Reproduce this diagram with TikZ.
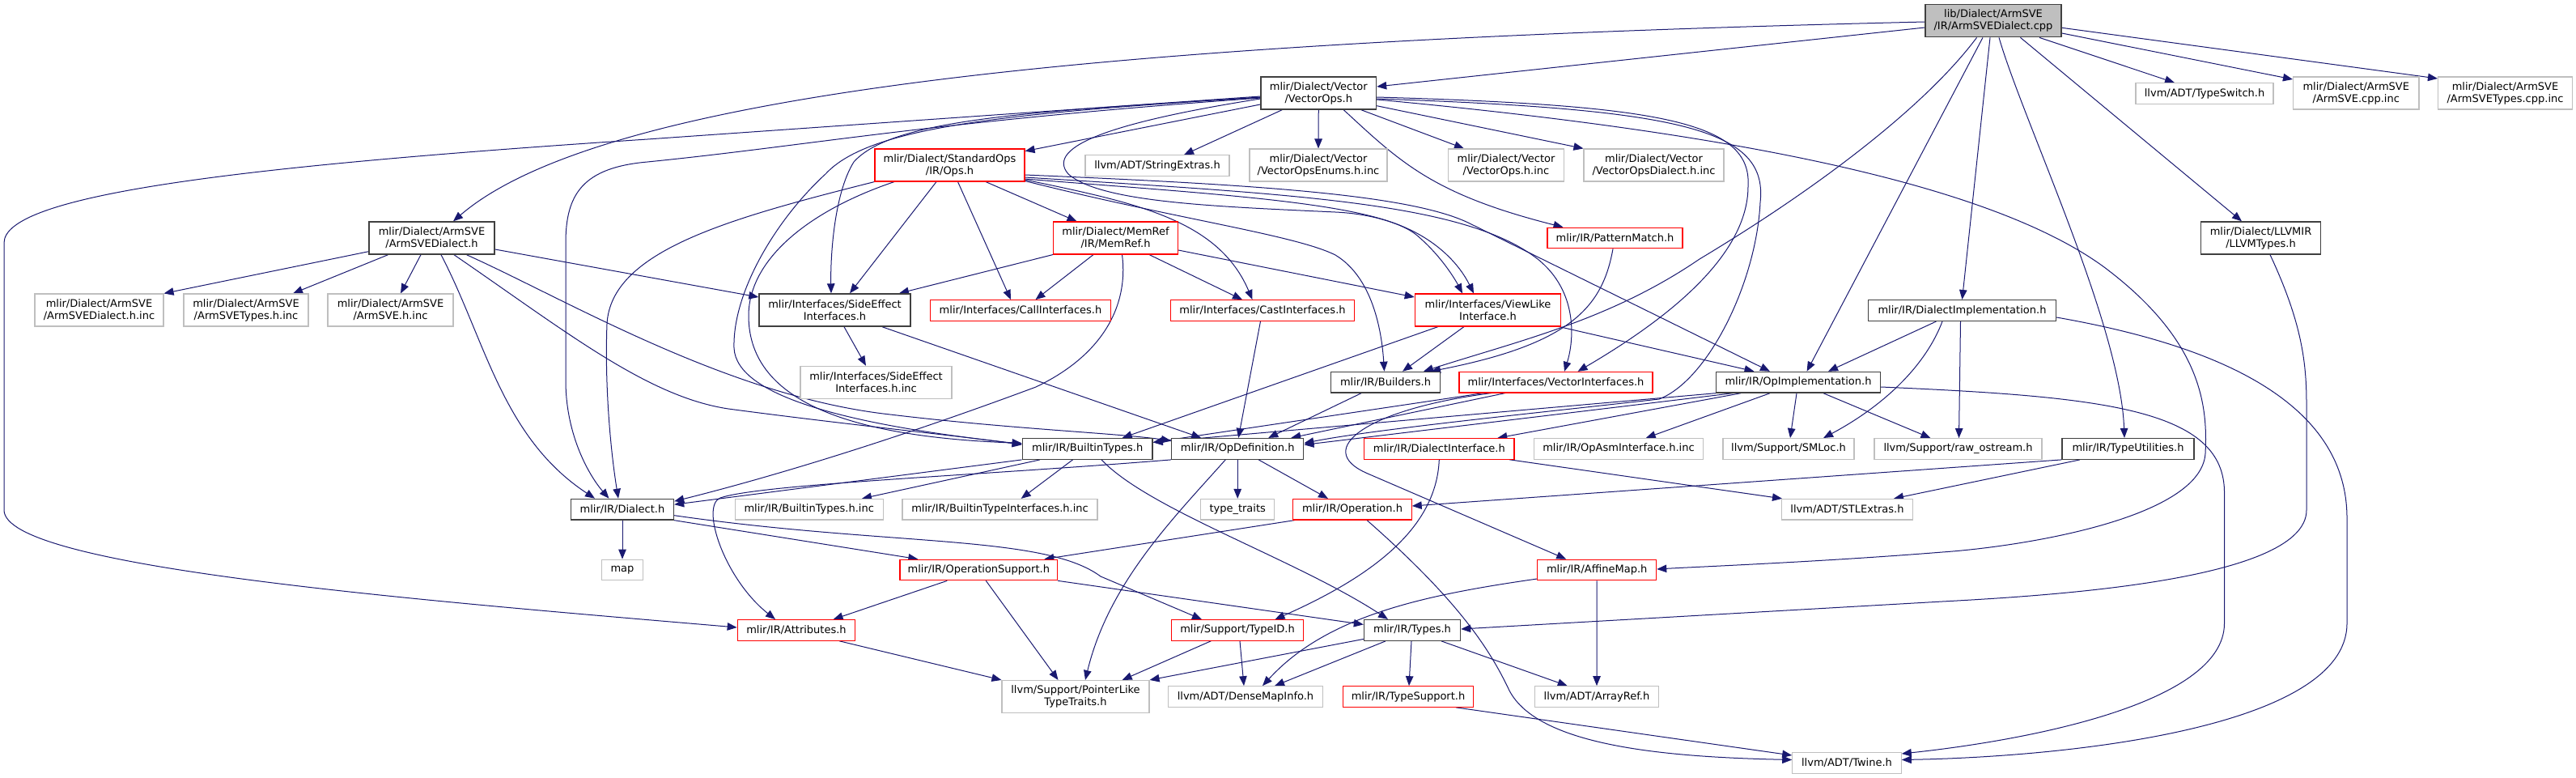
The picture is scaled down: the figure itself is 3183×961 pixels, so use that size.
\documentclass[tikz,border=0pt]{standalone}
\usepackage{fontspec}
\setmainfont{DejaVu Sans}
\usetikzlibrary{arrows.meta}
\pgfdeclarelayer{bg}
\pgfsetlayers{bg,main}
\definecolor{edgec}{HTML}{191970}
\definecolor{greyA}{HTML}{404040}
\definecolor{greyB}{HTML}{BFBFBF}
\definecolor{redc}{HTML}{FF0000}
\begin{document}
\begin{tikzpicture}[x=1pt,y=-1pt,
  nbox/.style={rectangle, line width=1.1pt, fill=white, inner sep=0pt, align=center, font=\fontsize{13}{15}\selectfont, minimum height=25.6pt},
  twol/.style={minimum height=40pt},
  nblk/.style={nbox, draw=greyA, line width=1.4pt},
  nred/.style={nbox, draw=redc},
  ngry/.style={nbox, draw=greyB},
  nroot/.style={nbox, draw=greyA, fill=greyB, line width=1.4pt},
  conn/.style={draw=edgec, line width=1.0pt, -{Triangle[length=12pt,width=9.5pt]}}
]
\useasboundingbox (0,0) rectangle (3183,961);

% ---------- nodes ----------
\node[nroot, twol, minimum width=168pt] (cpp) at (2463,25.7) {lib/Dialect/ArmSVE\\/IR/ArmSVEDialect.cpp};
\node[nblk, twol, minimum width=142.5pt] (vops) at (1629.25,115) {mlir/Dialect/Vector\\/VectorOps.h};
\node[ngry, minimum width=170pt] (typeswitch) at (2724,115.5) {llvm/ADT/TypeSwitch.h};
\node[ngry, twol, minimum width=155.5pt] (asvecppinc) at (2911.25,115) {mlir/Dialect/ArmSVE\\/ArmSVE.cpp.inc};
\node[ngry, twol, minimum width=166pt] (asvetcppinc) at (3095.5,115) {mlir/Dialect/ArmSVE\\/ArmSVETypes.cpp.inc};
\node[nred, twol, minimum width=185pt] (ops) at (1173.5,204) {mlir/Dialect/StandardOps\\/IR/Ops.h};
\node[ngry, minimum width=178pt] (strext) at (1430,204.5) {llvm/ADT/StringExtras.h};
\node[ngry, twol, minimum width=170pt] (venum) at (1629,204) {mlir/Dialect/Vector\\/VectorOpsEnums.h.inc};
\node[ngry, twol, minimum width=142.5pt] (vopsinc) at (1861,204) {mlir/Dialect/Vector\\/VectorOps.h.inc};
\node[ngry, twol, minimum width=173pt] (vdialinc) at (2043.5,204) {mlir/Dialect/Vector\\/VectorOpsDialect.h.inc};
\node[nblk, twol, minimum width=155pt] (asd) at (533.5,294) {mlir/Dialect/ArmSVE\\/ArmSVEDialect.h};
\node[nred, twol, minimum width=154pt] (memref) at (1378.5,294) {mlir/Dialect/MemRef\\/IR/MemRef.h};
\node[nred, minimum width=167pt] (pattern) at (1995.5,294) {mlir/IR/PatternMatch.h};
\node[nblk, twol, minimum width=148pt] (llvmtypes) at (2793.5,294) {mlir/Dialect/LLVMIR\\/LLVMTypes.h};
\node[ngry, twol, minimum width=159pt] (asdinc) at (122.5,383) {mlir/Dialect/ArmSVE\\/ArmSVEDialect.h.inc};
\node[ngry, twol, minimum width=154pt] (astinc) at (304,383) {mlir/Dialect/ArmSVE\\/ArmSVETypes.h.inc};
\node[ngry, twol, minimum width=155pt] (asveinc) at (482.5,383) {mlir/Dialect/ArmSVE\\/ArmSVE.h.inc};
\node[nblk, twol, minimum width=187pt] (sei) at (1031.5,383) {mlir/Interfaces/SideEffect\\Interfaces.h};
\node[nred, minimum width=223pt] (call) at (1261,383.5) {mlir/Interfaces/CallInterfaces.h};
\node[nred, minimum width=227pt] (cast) at (1560,383.5) {mlir/Interfaces/CastInterfaces.h};
\node[nred, twol, minimum width=180.5pt] (viewlike) at (1838.5,383) {mlir/Interfaces/ViewLike\\Interface.h};
\node[nblk, minimum width=232pt] (dialimpl) at (2424.5,383.5) {mlir/IR/DialectImplementation.h};
\node[ngry, twol, minimum width=187pt] (seiinc) at (1082.5,472.3) {mlir/Interfaces/SideEffect\\Interfaces.h.inc};
\node[nblk, minimum width=135pt] (builders) at (1712,472.2) {mlir/IR/Builders.h};
\node[nred, minimum width=239pt] (vecint) at (1922.5,472.2) {mlir/Interfaces/VectorInterfaces.h};
\node[nblk, minimum width=203pt] (opimpl) at (2222,472.2) {mlir/IR/OpImplementation.h};
\node[nblk, minimum width=160.7pt] (builtin) at (1343.7,554.4) {mlir/IR/BuiltinTypes.h};
\node[nblk, minimum width=163pt] (opdef) at (1529.2,554.4) {mlir/IR/OpDefinition.h};
\node[nred, minimum width=185.3pt] (dialint) at (1778.3,554.4) {mlir/IR/DialectInterface.h};
\node[ngry, minimum width=209.3pt] (opasminc) at (2000,554.4) {mlir/IR/OpAsmInterface.h.inc};
\node[ngry, minimum width=162pt] (smloc) at (2210,554.4) {llvm/Support/SMLoc.h};
\node[ngry, minimum width=207pt] (rawos) at (2419.5,554.4) {llvm/Support/raw\_ostream.h};
\node[nblk, minimum width=163pt] (typeutil) at (2629.5,554.4) {mlir/IR/TypeUtilities.h};
\node[nblk, minimum width=127pt] (dialect) at (769,629.2) {mlir/IR/Dialect.h};
\node[ngry, minimum width=182.7pt] (bthinc) at (999.7,629.2) {mlir/IR/BuiltinTypes.h.inc};
\node[ngry, minimum width=241pt] (btiinc) at (1235.5,629.2) {mlir/IR/BuiltinTypeInterfaces.h.inc};
\node[ngry, minimum width=91.3pt] (typetraits) at (1529.2,629.2) {type\_traits};
\node[nred, minimum width=146.3pt] (operation) at (1671,629.2) {mlir/IR/Operation.h};
\node[ngry, minimum width=162.3pt] (stlextras) at (2282.5,629.2) {llvm/ADT/STLExtras.h};
\node[ngry, minimum width=50.7pt] (map) at (769,704) {map};
\node[nred, minimum width=194.6pt] (opsupport) at (1209.3,704) {mlir/IR/OperationSupport.h};
\node[nred, minimum width=147pt] (affinemap) at (1973.2,704) {mlir/IR/AffineMap.h};
\node[nred, minimum width=145.6pt] (attributes) at (984,778.4) {mlir/IR/Attributes.h};
\node[nred, minimum width=163pt] (typeid) at (1529,778.4) {mlir/Support/TypeID.h};
\node[nblk, minimum width=119pt] (types) at (1745,778.4) {mlir/IR/Types.h};
\node[ngry, twol, minimum width=182pt] (ptrlike) at (1329,860.5) {llvm/Support/PointerLike\\TypeTraits.h};
\node[ngry, minimum width=190.7pt] (densemap) at (1539,860.5) {llvm/ADT/DenseMapInfo.h};
\node[nred, minimum width=161.4pt] (typesupport) at (1740,860.5) {mlir/IR/TypeSupport.h};
\node[ngry, minimum width=153.6pt] (arrayref) at (1973,860.5) {llvm/ADT/ArrayRef.h};
\node[ngry, minimum width=134.5pt] (twine) at (2282,942.5) {llvm/ADT/Twine.h};

% ---------- connectors ----------
\begin{pgfonlayer}{bg}
% root
\draw[conn] ([yshift=-8.3pt]cpp.west) -- ([yshift=8pt]vops.east);
\draw[conn] ([yshift=-1.3pt]cpp.west) .. controls (1400,50) and (750,110) .. ([xshift=26.5pt]asd.north);
\draw[conn] ([xshift=57pt]cpp.south) -- ([xshift=-37pt]typeswitch.north);
\draw[conn] ([yshift=-15.3pt]cpp.east) -- ([yshift=17pt]asvecppinc.west);
\draw[conn] ([yshift=-8.6pt]cpp.east) -- ([yshift=18pt]asvetcppinc.west);
\draw[conn] ([xshift=33.5pt]cpp.south) -- ([xshift=-23.5pt]llvmtypes.north);
\draw[conn] ([xshift=7pt]cpp.south) .. controls (2500,150) and (2620,400) .. ([xshift=-4.5pt]typeutil.north);
\draw[conn] ([xshift=-4pt]cpp.south) -- (dialimpl.north);
\draw[conn] ([xshift=-13pt]cpp.south) -- ([xshift=10.6pt]opimpl.north);
\draw[conn] ([xshift=-20.5pt]cpp.south) .. controls (2380,130) and (2250,230) .. (2100,320) .. controls (1990,395) and (1880,420) .. ([xshift=47pt]builders.north);
% VectorOps.h
\draw[conn] (vops.south) -- (venum.north);
\draw[conn] ([xshift=52.6pt]vops.south) -- ([xshift=-52pt]vopsinc.north);
\draw[conn] ([yshift=-15.7pt]vops.east) -- (vdialinc.north west);
\draw[conn] ([xshift=-45pt]vops.south) -- ([xshift=33pt]strext.north);
\draw[conn] ([yshift=-14pt]vops.west) -- ([yshift=17.3pt]ops.east);
\draw[conn] ([xshift=31pt]vops.south) .. controls (1730,200) and (1770,240) .. ([xshift=-64pt]pattern.north);
\draw[conn] ([yshift=-4pt]vops.west) -- (800,172) .. controls (300,205) and (5,240) .. (5,300) -- (5,630) .. controls (5,700) and (500,740) .. ([yshift=3.4pt]attributes.west);
\draw[conn] ([yshift=-6pt]vops.west) .. controls (1150,150) and (1000,180) .. (800,200) .. controls (720,207) and (699,240) .. (699,300) -- (699,470) .. controls (699,540) and (730,590) .. ([xshift=-16.5pt]dialect.north);
\draw[conn] ([yshift=-5pt]vops.west) .. controls (1250,140) and (1075,155) .. (1020,215) .. controls (960,270) and (905,360) .. (907,430) .. controls (910,490) and (1050,525) .. ([yshift=6pt]builtin.west);
\draw[conn] ([yshift=-5.5pt]vops.west) .. controls (1250,138) and (1100,150) .. (1055,200) .. controls (1030,240) and (1026,320) .. ([xshift=-4.5pt]sei.north);
\draw[conn] ([yshift=-7pt]vops.west) .. controls (1380,150) and (1290,180) .. (1320,215) .. controls (1360,250) and (1500,255) .. (1650,262) .. controls (1740,266) and (1795,310) .. ([xshift=-17.5pt]viewlike.north);
\draw[conn] ([yshift=-5pt]vops.east) .. controls (2050,130) and (2165,150) .. (2160,230) .. controls (2160,320) and (2050,400) .. ([xshift=27pt]vecint.north);
\draw[conn] ([yshift=-7pt]vops.east) .. controls (2080,135) and (2185,160) .. (2175,250) .. controls (2170,350) and (2110,470) .. (2050,493) .. controls (1900,510) and (1700,530) .. ([yshift=7pt]opdef.east);
\draw[conn] ([yshift=-8pt]vops.east) .. controls (2100,160) and (2450,220) .. (2600,330) .. controls (2720,420) and (2728,500) .. (2725,560) .. controls (2720,640) and (2500,675) .. (2400,682) .. controls (2250,694) and (2100,700) .. ([yshift=1pt]affinemap.east);
% Ops.h
\draw[conn] (ops.south west) .. controls (900,270) and (755,310) .. (750,400) .. controls (747,480) and (755,560) .. ([xshift=-5pt]dialect.north);
\draw[conn] ([xshift=-68.5pt]ops.south) .. controls (1000,260) and (925,320) .. (925,390) .. controls (925,500) and (1060,540) .. ([yshift=7pt]builtin.west);
\draw[conn] ([xshift=-16.5pt]ops.south) -- ([xshift=18.5pt]sei.north);
\draw[conn] ([xshift=10pt]ops.south) -- ([xshift=-12pt]call.north);
\draw[conn] ([xshift=44.5pt]ops.south) -- ([xshift=-48pt]memref.north);
\draw[conn] ([yshift=-18pt]ops.east) .. controls (1400,250) and (1505,270) .. ([xshift=-12.5pt]cast.north);
\draw[conn] ([yshift=-17pt]ops.east) .. controls (1500,240) and (1700,250) .. (1750,290) .. controls (1780,315) and (1798,345) .. ([xshift=-31.5pt]viewlike.north);
\draw[conn] ([yshift=-15pt]ops.east) .. controls (1600,240) and (1810,250) .. (1900,320) .. controls (1950,360) and (1945,420) .. ([xshift=10.5pt]vecint.north);
\draw[conn] ([yshift=-12pt]ops.east) .. controls (1550,228) and (1740,240) .. (1814,275) -- ([xshift=-35pt]opimpl.north);
\draw[conn] ([yshift=-19.5pt]ops.east) .. controls (1450,270) and (1600,290) .. (1650,315) .. controls (1700,345) and (1708,420) .. ([xshift=-1.5pt]builders.north);
% MemRef.h
\draw[conn] (memref.south west) -- ([xshift=79.5pt]sei.north);
\draw[conn] ([xshift=-27.5pt]memref.south) -- ([xshift=18.5pt]call.north);
\draw[conn] ([xshift=8pt]memref.south) .. controls (1395,380) and (1360,440) .. (1280,478) .. controls (1100,545) and (950,590) .. ([yshift=10pt]dialect.east);
\draw[conn] ([xshift=41.5pt]memref.south) -- ([xshift=-25pt]cast.north);
\draw[conn] ([yshift=-15pt]memref.east) -- ([yshift=16pt]viewlike.west);
% ArmSVEDialect.h
\draw[conn] ([yshift=-16.7pt]asd.west) -- (asdinc.north east);
\draw[conn] ([xshift=-54pt]asd.south) -- ([xshift=58pt]astinc.north);
\draw[conn] ([xshift=-13.5pt]asd.south) -- ([xshift=12.5pt]asveinc.north);
\draw[conn] ([xshift=11.5pt]asd.south) .. controls (600,420) and (620,540) .. ([xshift=-34pt]dialect.north);
\draw[conn] ([xshift=27.5pt]asd.south) .. controls (700,410) and (800,490) .. (900,505) .. controls (1050,525) and (1200,540) .. ([yshift=5pt]builtin.west);
\draw[conn] ([xshift=43pt]asd.south) .. controls (700,370) and (900,490) .. (1100,512) .. controls (1250,530) and (1380,535) .. ([yshift=10pt]opdef.west);
\draw[conn] ([yshift=-14pt]asd.east) -- ([yshift=16pt]sei.west);
% interfaces
\draw[conn] ([xshift=11.5pt]sei.south) -- ([xshift=-12.5pt]seiinc.north);
\draw[conn] ([xshift=58.5pt]sei.south) -- ([xshift=-45pt]opdef.north);
\draw[conn] ([xshift=-2.5pt]cast.south) -- ([xshift=1pt]opdef.north);
\draw[conn] ([xshift=-61.5pt]viewlike.south) -- ([xshift=43pt]builtin.north);
\draw[conn] ([xshift=-29.5pt]viewlike.south) -- ([xshift=21pt]builders.north);
\draw[conn] ([xshift=88pt]viewlike.south) -- ([xshift=-54.5pt]opimpl.north);
\draw[conn] ([xshift=-2.5pt]pattern.south) .. controls (1980,380) and (1940,425) .. ([xshift=56pt]builders.north);
\draw[conn] ([xshift=-30pt]builders.south) -- ([xshift=38pt]opdef.north);
\draw[conn] ([xshift=-79.5pt]vecint.south) .. controls (1690,505) and (1620,555) .. (1690,585) -- ([xshift=-38pt]affinemap.north);
\draw[conn] ([xshift=-89.5pt]vecint.south) -- ([yshift=8pt]builtin.east);
\draw[conn] ([xshift=-62.5pt]vecint.south) -- ([xshift=66pt]opdef.north);
% OpImplementation.h
\draw[conn] (opimpl.south west) -- ([yshift=8pt]builtin.east);
\draw[conn] ([xshift=-81pt]opimpl.south) -- ([yshift=5pt]opdef.east);
\draw[conn] ([xshift=-71pt]opimpl.south) -- ([xshift=72pt]dialint.north);
\draw[conn] ([xshift=-35pt]opimpl.south) -- ([xshift=33.7pt]opasminc.north);
\draw[conn] ([xshift=-2pt]opimpl.south) -- ([xshift=2pt]smloc.north);
\draw[conn] ([xshift=31pt]opimpl.south) -- ([xshift=-34pt]rawos.north);
\draw[conn] ([yshift=-5.8pt]opimpl.east) .. controls (2600,490) and (2750,505) .. (2748.5,610) -- (2748.5,770) .. controls (2748.5,870) and (2500,915) .. ([yshift=11.5pt]twine.east);
% DialectImplementation.h
\draw[conn] ([xshift=-32pt]dialimpl.south) -- ([xshift=37pt]opimpl.north);
\draw[conn] ([xshift=-24.5pt]dialimpl.south) .. controls (2380,450) and (2330,500) .. ([xshift=43pt]smloc.north);
\draw[conn] ([xshift=-2pt]dialimpl.south) -- ([xshift=1pt]rawos.north);
\draw[conn] ([yshift=-8.5pt]dialimpl.east) .. controls (2700,420) and (2900,480) .. (2900,640) -- (2900,770) .. controls (2900,900) and (2550,935) .. ([yshift=4pt]twine.east);
% LLVMTypes.h, TypeUtilities.h
\draw[conn] ([xshift=11.5pt]llvmtypes.south) .. controls (2845,400) and (2850,450) .. (2850,500) -- (2850,630) .. controls (2850,715) and (2550,735) .. (2400,743) -- ([yshift=1.4pt]types.east);
\draw[conn] (typeutil.south west) -- ([yshift=4.2pt]operation.east);
\draw[conn] ([xshift=-59.5pt]typeutil.south) -- ([xshift=57.5pt]stlextras.north);
% BuiltinTypes.h, OpDefinition.h
\draw[conn] (builtin.south west) -- ([yshift=6pt]dialect.east);
\draw[conn] ([xshift=-58.7pt]builtin.south) -- ([xshift=65.3pt]bthinc.north);
\draw[conn] ([xshift=-18.2pt]builtin.south) -- ([xshift=26.2pt]btiinc.north);
\draw[conn] ([xshift=17.3pt]builtin.south) .. controls (1420,630) and (1600,690) .. ([xshift=-30pt]types.north);
\draw[conn] ([xshift=-15pt]opdef.south) .. controls (1450,640) and (1370,720) .. ([xshift=12pt]ptrlike.north);
\draw[conn] (opdef.south) -- (typetraits.north);
\draw[conn] ([xshift=26pt]opdef.south) -- ([xshift=-30pt]operation.north);
\draw[conn] (opdef.south west) .. controls (1200,588) and (940,598) .. (890,615) .. controls (865,625) and (895,715) .. ([xshift=-26pt]attributes.north);
% DialectInterface.h, Dialect.h, Operation.h
\draw[conn] ([xshift=86.7pt]dialint.south) -- ([xshift=-80.5pt]stlextras.north);
\draw[conn] (dialint.south) .. controls (1775,650) and (1700,710) .. ([xshift=46.5pt]typeid.north);
\draw[conn] (dialect.south) -- (map.north);
\draw[conn] (dialect.south east) -- ([xshift=-75pt]opsupport.north);
\draw[conn] ([yshift=-7.5pt]dialect.east) .. controls (1100,675) and (1290,660) .. (1360,712) -- ([xshift=-44pt]typeid.north);
\draw[conn] ([xshift=-71pt]operation.south) -- ([xshift=81pt]opsupport.north);
\draw[conn] ([xshift=18pt]operation.south) .. controls (1800,740) and (1840,800) .. (1865,853) .. controls (1900,920) and (2050,935) .. ([yshift=4pt]twine.west);
% lower level
\draw[conn] ([xshift=-39pt]opsupport.south) -- ([xshift=45.6pt]attributes.north);
\draw[conn] ([xshift=9pt]opsupport.south) -- ([xshift=-21.5pt]ptrlike.north);
\draw[conn] (opsupport.south east) -- ([yshift=7pt]types.west);
\draw[conn] ([xshift=53pt]attributes.south) -- (ptrlike.north west);
\draw[conn] ([xshift=-32.6pt]typeid.south) -- ([xshift=57.7pt]ptrlike.north);
\draw[conn] ([xshift=3pt]typeid.south) -- ([xshift=-2pt]densemap.north);
\draw[conn] ([xshift=-1pt]types.south) -- ([xshift=1pt]typesupport.north);
\draw[conn] ([xshift=36pt]types.south) -- ([xshift=-36.3pt]arrayref.north);
\draw[conn] ([yshift=-11pt]types.west) -- (ptrlike.north east);
\draw[conn] ([xshift=-33pt]types.south) -- ([xshift=36pt]densemap.north);
\draw[conn] (affinemap.south) -- (arrayref.north);
\draw[conn] ([yshift=-11pt]affinemap.west) .. controls (1760,735) and (1640,760) .. ([xshift=21pt]densemap.north);
\draw[conn] ([xshift=59pt]typesupport.south) -- ([yshift=9.5pt]twine.west);
\end{pgfonlayer}
\end{tikzpicture}
\end{document}
